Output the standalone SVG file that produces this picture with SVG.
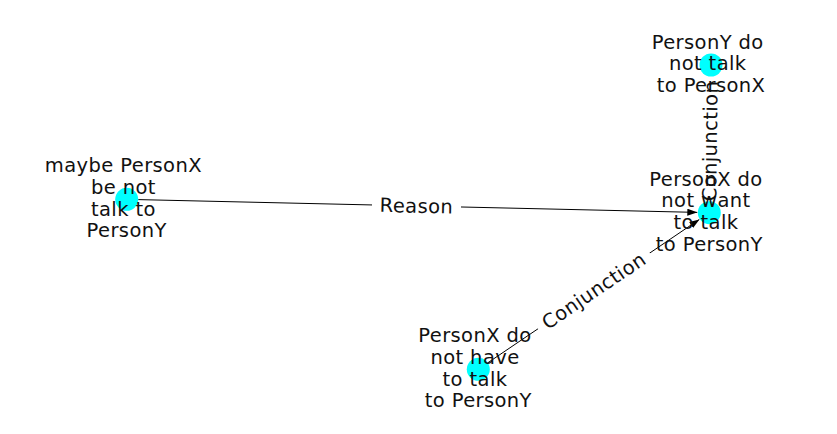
<svg xmlns="http://www.w3.org/2000/svg" width="837" height="434" viewBox="0 0 837 434">
  <style>
    .edge { stroke: #000; stroke-width: 1; fill: none; }
    .lbox { fill: #fff; stroke: #fff; }
    .elabel, .nlabel { font-family: "DejaVu Sans", "Liberation Sans", sans-serif; font-size: 19.5px; letter-spacing: 0.4px; fill: #111; text-anchor: middle; }
    .node { fill: #00ffff; }
  </style>
  <defs>
    <marker id="arrow" viewBox="0 0 10 7" refX="10" refY="3.5" markerWidth="10" markerHeight="7" orient="auto" markerUnits="userSpaceOnUse">
      <path d="M0,0 L10,3.5 L0,7 z" fill="#000"/>
    </marker>
  </defs>
  <rect width="837" height="434" fill="#fff"/>

  <g id="connectors">
    <line class="edge" x1="138.2" y1="199.6" x2="697.3" y2="212.4" marker-end="url(#arrow)"/>
    <line class="edge" x1="487.8" y1="362.8" x2="699.4" y2="219.4" marker-end="url(#arrow)"/>
    <line class="edge" x1="711" y1="76.5" x2="709.3" y2="201.2"/>

    <g id="label-reason" transform="translate(416.5,206) rotate(1.3)">
      <rect class="lbox" x="-44" y="-16.5" width="88" height="33" rx="6"/>
      <text class="elabel" x="0" y="6.7">Reason</text>
    </g>
    <g id="label-conj-1" transform="translate(593.8,290.8) rotate(-34.1)">
      <rect class="lbox" x="-67" y="-16.5" width="134" height="33" rx="6"/>
      <text class="elabel" x="0" y="6.7">Conjunction</text>
    </g>
    <g id="label-conj-2" transform="translate(710.2,141) rotate(-89.3)">
      <rect class="lbox" x="-66" y="-16.5" width="132" height="33" rx="6"/>
      <text class="elabel" x="0" y="6.7">Conjunction</text>
    </g>
  </g>

  <g id="node-a">
    <circle class="node" cx="711" cy="65" r="11.5"/>
    <text class="nlabel">
      <tspan x="711" y="48.8">PersonY do</tspan>
      <tspan x="711" y="70.4">not talk</tspan>
      <tspan x="711" y="92">to PersonX</tspan>
    </text>
  </g>

  <g id="node-b">
    <circle class="node" cx="709.3" cy="212.7" r="11.5"/>
    <text class="nlabel">
      <tspan x="709.3" y="185.7">PersonX do</tspan>
      <tspan x="709.3" y="207.3">not want</tspan>
      <tspan x="709.3" y="228.9">to talk</tspan>
      <tspan x="709.3" y="250.5">to PersonY</tspan>
    </text>
  </g>

  <g id="node-c">
    <circle class="node" cx="126.7" cy="199.3" r="11.5"/>
    <text class="nlabel">
      <tspan x="126.7" y="172.3">maybe PersonX</tspan>
      <tspan x="126.7" y="193.9">be not</tspan>
      <tspan x="126.7" y="215.5">talk to</tspan>
      <tspan x="126.7" y="237.1">PersonY</tspan>
    </text>
  </g>

  <g id="node-d">
    <circle class="node" cx="478.3" cy="369.3" r="11.5"/>
    <text class="nlabel">
      <tspan x="478.3" y="342.3">PersonX do</tspan>
      <tspan x="478.3" y="363.9">not have</tspan>
      <tspan x="478.3" y="385.5">to talk</tspan>
      <tspan x="478.3" y="407.1">to PersonY</tspan>
    </text>
  </g>
</svg>
